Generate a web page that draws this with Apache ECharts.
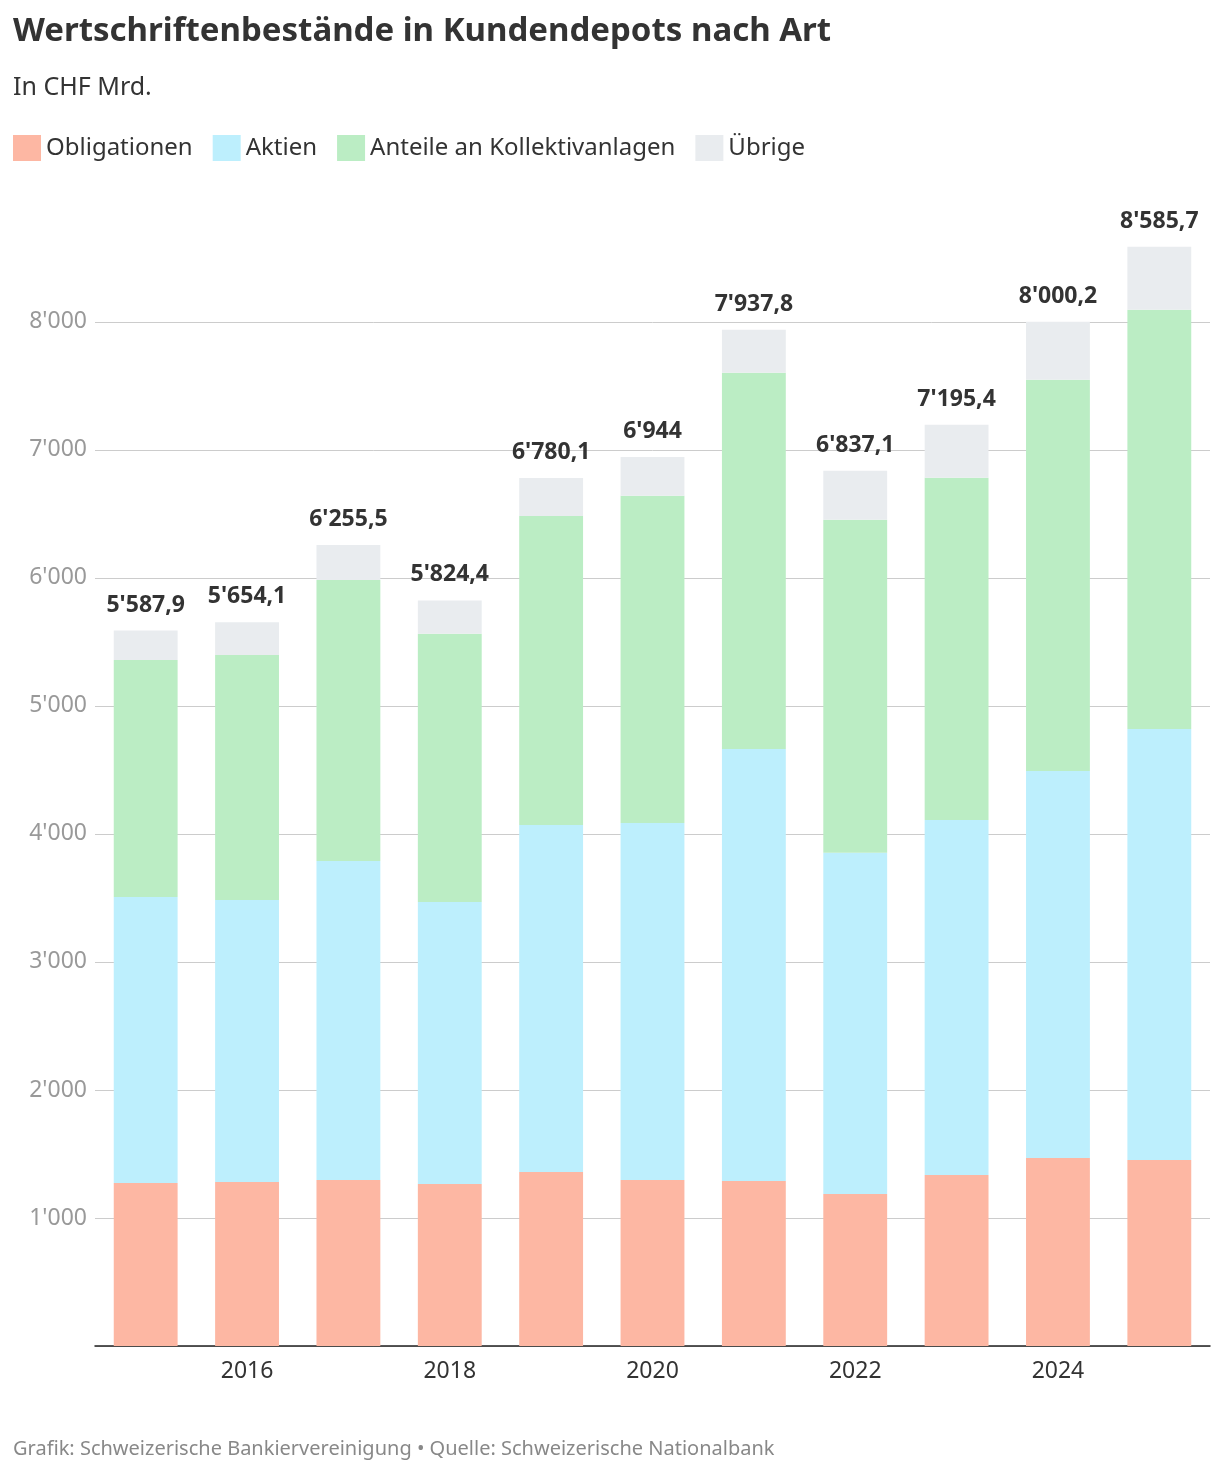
<!DOCTYPE html>
<html lang="de">
<head>
<meta charset="UTF-8">
<title>Wertschriftenbestände in Kundendepots nach Art</title>
<script src="https://cdn.jsdelivr.net/npm/echarts@6/dist/echarts.min.js"></script>
<style>
	html, body { margin:0; padding:0; background:#fff; }
	#chart { width:1220px; height:1472px; }
</style>
</head>
<body>
<div id="chart"></div>
<script>
// Daten (CHF Mrd.)
var years = ['2015','2016','2017','2018','2019','2020','2021','2022','2023','2024','2025'];
var obligationen = [1273, 1281, 1297, 1266, 1359, 1297, 1289, 1188, 1336, 1469, 1453];
var aktien = [2235, 2203, 2492, 2203, 2711, 2789, 3375, 2664, 2773, 3023, 3367];
var kollektiv = [1851, 1914, 2195, 2094, 2414, 2555, 2938, 2601, 2672, 3055, 3274];
var uebrige = [229, 256, 272, 261, 296, 303, 336, 384, 414, 453, 492];
var totalLabels = ["5'587,9", "5'654,1", "6'255,5", "5'824,4", "6'780,1", "6'944", "7'937,8", "6'837,1", "7'195,4", "8'000,2", "8'585,7"];

var font = 'Noto Sans';
var chart = echarts.init(document.getElementById('chart'));

function fmt(v) {
	if (v === 0) return '';
	return String(v).replace(/\B(?=(\d{3})+(?!\d))/g, "'");
}

var option = {
	backgroundColor: '#fff',
	title: [
		{ text: 'Wertschriftenbestände in Kundendepots nach Art', left: 8, top: 10,
			textStyle: { fontFamily: font, fontSize: 33, fontWeight: 'bold', color: '#333' } },
		{ text: 'In CHF Mrd.', left: 8, top: 70,
			textStyle: { fontFamily: font, fontSize: 25, fontWeight: 'normal', color: '#333' } },
		{ text: 'Grafik: Schweizerische Bankiervereinigung • Quelle: Schweizerische Nationalbank', left: 8, top: 1434,
			textStyle: { fontFamily: font, fontSize: 20, fontWeight: 'normal', color: '#888' } }
	],
	legend: {
		left: 8, top: 130, itemWidth: 28, itemHeight: 26, itemGap: 20, icon: 'rect',
		textStyle: { fontFamily: font, fontSize: 24, color: '#333' },
		data: ['Obligationen', 'Aktien', 'Anteile an Kollektivanlagen', 'Übrige']
	},
	grid: { left: 95, right: 10, top: 245, bottom: 126 },
	xAxis: {
		type: 'category',
		data: years,
		axisLine: { lineStyle: { color: '#222', width: 1.5 } },
		axisTick: { show: false },
		axisLabel: {
			interval: function (i) { return i % 2 === 1; },
			fontFamily: font, fontSize: 23, color: '#333', margin: 14
		}
	},
	yAxis: {
		type: 'value', min: 0, max: 8600, interval: 1000,
		axisLine: { show: false }, axisTick: { show: false },
		splitLine: { showMaxLine: false, lineStyle: { color: '#ccc' } },
		axisLabel: { showMaxLabel: false, formatter: fmt, fontFamily: font, fontSize: 23, color: '#999', margin: 8 }
	},
	series: [
		{ name: 'Obligationen', type: 'bar', stack: 'a', barCategoryGap: '37%', itemStyle: { color: '#fdb7a3' }, data: obligationen },
		{ name: 'Aktien', type: 'bar', stack: 'a', itemStyle: { color: '#bdeffd' }, data: aktien },
		{ name: 'Anteile an Kollektivanlagen', type: 'bar', stack: 'a', itemStyle: { color: '#bbedc4' }, data: kollektiv },
		{ name: 'Übrige', type: 'bar', stack: 'a', itemStyle: { color: '#e9ecef' }, data: uebrige,
			label: {
				show: true, position: 'top', distance: 14,
				formatter: function (p) { return totalLabels[p.dataIndex]; },
				fontFamily: font, fontSize: 23, fontWeight: 'bold', color: '#333'
			}
		}
	]
};
chart.setOption(option);
</script>
</body>
</html>
